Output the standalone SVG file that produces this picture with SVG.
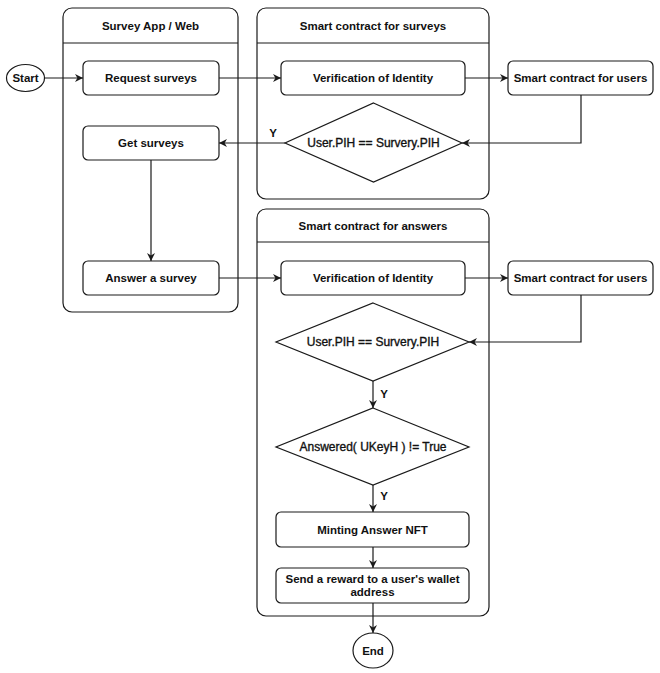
<svg xmlns="http://www.w3.org/2000/svg" width="660" height="673" viewBox="0 0 660 673">
<defs>
<style>
.c{fill:#fff;stroke:#1a1a1a;stroke-width:1.2}
.b{fill:#fff;stroke:#1a1a1a;stroke-width:1.2}
.l{fill:none;stroke:#1a1a1a;stroke-width:1.2}
text{font-family:"Liberation Sans",Arial,sans-serif;font-size:11.5px;font-weight:bold;fill:#111;text-anchor:middle;dominant-baseline:central}
text.r{font-weight:normal;font-size:12px;stroke:#111;stroke-width:0.35}
</style>
<marker id="a" viewBox="0 0 10 10" refX="10" refY="5" markerWidth="8" markerHeight="8" markerUnits="userSpaceOnUse" orient="auto">
<path d="M0,0 L10,5 L0,10 L3,5 Z" fill="#1a1a1a"/>
</marker>
</defs>
<rect width="660" height="673" fill="#fff"/>
<g id="lane-app">
<rect class="c" x="63" y="8" width="175" height="304" rx="9"/>
<path class="l" d="M63,43 H238"/>
<text x="150.5" y="25.5">Survey App / Web</text>
</g>
<g id="lane-surveys">
<rect class="c" x="257" y="8" width="232" height="191" rx="9"/>
<path class="l" d="M257,43 H489"/>
<text x="373" y="25.5">Smart contract for surveys</text>
</g>
<g id="lane-answers">
<rect class="c" x="257" y="209" width="232" height="407" rx="9"/>
<path class="l" d="M257,242 H489"/>
<text x="373" y="225.5">Smart contract for answers</text>
</g>
<g id="start"><ellipse class="b" cx="25.5" cy="78" rx="19" ry="13.5"/><text x="25.5" y="78">Start</text></g>
<g id="request"><rect class="b" x="83" y="61" width="136" height="34" rx="5"/><text x="151" y="78">Request surveys</text></g>
<g id="get"><rect class="b" x="83" y="126" width="136" height="34" rx="5"/><text x="151" y="143">Get surveys</text></g>
<g id="answer"><rect class="b" x="83" y="261" width="136" height="34" rx="5"/><text x="151" y="278">Answer a survey</text></g>
<g id="verify1"><rect class="b" x="281" y="61" width="184" height="34" rx="5"/><text x="373" y="78">Verification of Identity</text></g>
<g id="users1"><rect class="b" x="508" y="61" width="145" height="34" rx="5"/><text x="580.5" y="78">Smart contract for users</text></g>
<g id="check1"><path class="b" d="M373.5,103 L462,143 L373.5,182 L285,143 Z"/><text class="r" x="373.5" y="143">User.PIH == Survery.PIH</text></g>
<g id="verify2"><rect class="b" x="281" y="261" width="184" height="34" rx="5"/><text x="373" y="278">Verification of Identity</text></g>
<g id="users2"><rect class="b" x="508" y="261" width="145" height="34" rx="5"/><text x="580.5" y="278">Smart contract for users</text></g>
<g id="check2"><path class="b" d="M373,303 L469,342 L373,381 L276,342 Z"/><text class="r" x="373" y="342">User.PIH == Survery.PIH</text></g>
<g id="check3"><path class="b" d="M373,408 L469,447 L373,485 L276,447 Z"/><text class="r" x="373" y="447">Answered( UKeyH ) != True</text></g>
<g id="mint"><rect class="b" x="276" y="512" width="193" height="35" rx="5"/><text x="372.5" y="529.5">Minting Answer NFT</text></g>
<g id="reward"><rect class="b" x="276" y="568" width="193" height="35" rx="5"/><text x="372.5" y="579">Send a reward to a user's wallet</text><text x="372.5" y="592">address</text></g>
<g id="end"><ellipse class="b" cx="373" cy="650.5" rx="20" ry="17.5"/><text x="373" y="650.5">End</text></g>
<g id="connectors">
<path class="l" d="M44.5,78 H83" marker-end="url(#a)"/>
<path class="l" d="M219,78 H281" marker-end="url(#a)"/>
<path class="l" d="M465,78 H508" marker-end="url(#a)"/>
<path class="l" d="M581,95 V143 H462" marker-end="url(#a)"/>
<path class="l" d="M285,143 H219" marker-end="url(#a)"/>
<path class="l" d="M151,160 V261" marker-end="url(#a)"/>
<path class="l" d="M219,278 H281" marker-end="url(#a)"/>
<path class="l" d="M465,278 H508" marker-end="url(#a)"/>
<path class="l" d="M581,295 V342 H469" marker-end="url(#a)"/>
<path class="l" d="M373,381 V408" marker-end="url(#a)"/>
<path class="l" d="M373,485 V512" marker-end="url(#a)"/>
<path class="l" d="M373,547 V568" marker-end="url(#a)"/>
<path class="l" d="M373,603 V633" marker-end="url(#a)"/>
<text x="273" y="133">Y</text>
<text x="384" y="394">Y</text>
<text x="384" y="496">Y</text>
</g>
</svg>
